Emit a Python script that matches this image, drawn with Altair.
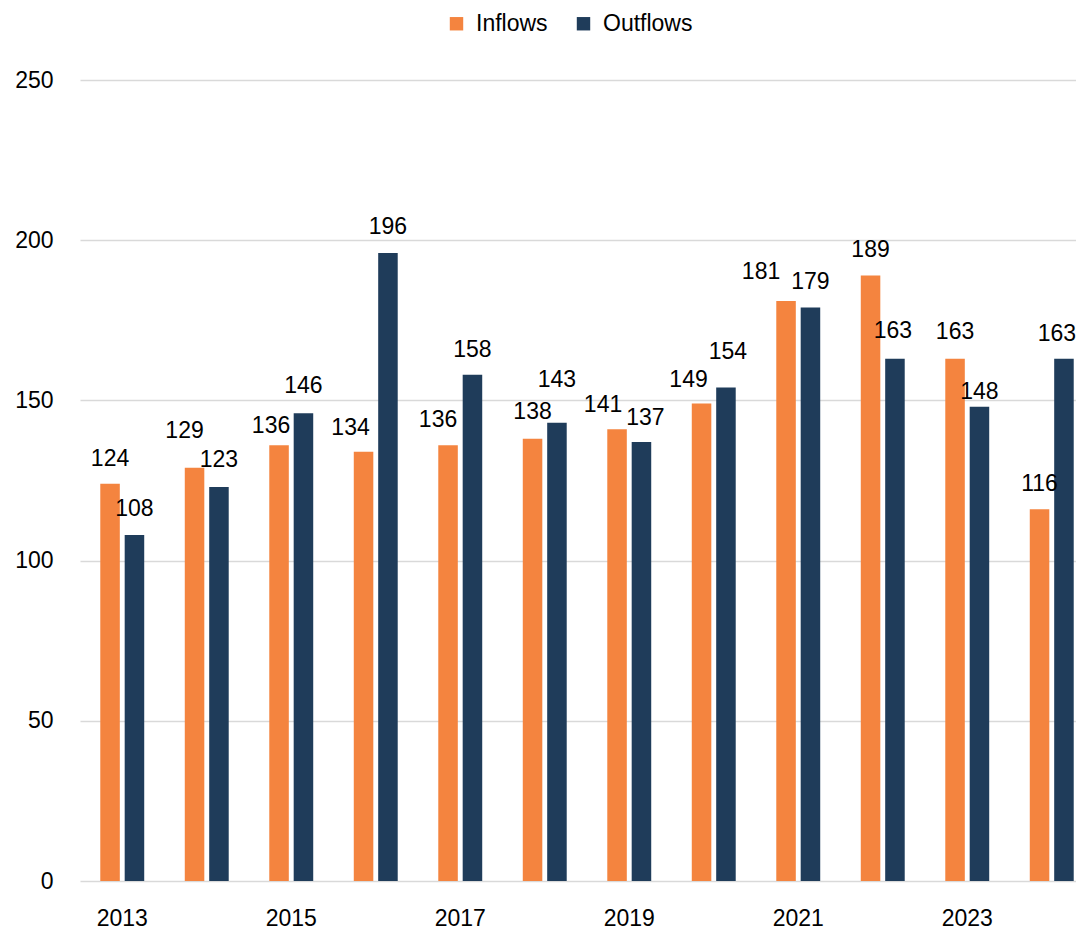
import altair as alt
import pandas as pd

years = [2013, 2014, 2015, 2016, 2017, 2018, 2019, 2020, 2021, 2022, 2023, 2024]
inflows = [124, 129, 136, 134, 136, 138, 141, 149, 181, 189, 163, 116]
outflows = [108, 123, 146, 196, 158, 143, 137, 154, 179, 163, 148, 163]
series = ["Inflows", "Outflows"]
colors = ["#F4843F", "#1F3C5A"]
year_ticks = [2013, 2015, 2017, 2019, 2021, 2023]
y_ticks = [0, 50, 100, 150, 200, 250]

# manual data-label nudges (pixels), as placed in the original chart
inflow_label_dx = [0, -10, -8, -13, -10, 0, -14, -13, -25, 0, 0, 0]
inflow_label_gap = [18, 30, 12, 17, 18, 20, 17, 17, 22, 18, 20, 18]
outflow_label_dx = [0, 0, 0, 0, 0, 0, 4, 2, 0, -2, 0, -7]
outflow_label_gap = [19, 20, 20, 19, 18, 36, 17, 29, 18, 21, 8, 18]

rows = []
for i, yr in enumerate(years):
    rows.append({"year": yr, "series": "Inflows", "value": inflows[i],
                 "ldx": inflow_label_dx[i], "lgap": inflow_label_gap[i]})
    rows.append({"year": yr, "series": "Outflows", "value": outflows[i],
                 "ldx": outflow_label_dx[i], "lgap": outflow_label_gap[i]})
df = pd.DataFrame(rows)

FONT = "Liberation Sans, Arial, sans-serif"
FS = 23

x_enc = alt.X(
    "year:O",
    scale=alt.Scale(range=[0, 1014], paddingInner=0.48, paddingOuter=0.24),
    axis=alt.Axis(
        values=year_ticks,
        title=None,
        labelAngle=0,
        domain=False,
        ticks=False,
        labelFontSize=FS,
        labelColor="#000000",
        labelPadding=44,
        labelBaseline="alphabetic",
    ),
)
xoff_enc = alt.XOffset(
    "series:N",
    sort=series,
    scale=alt.Scale(paddingInner=0.2, paddingOuter=0),
)
y_enc = alt.Y(
    "value:Q",
    scale=alt.Scale(domain=[0, 250], nice=False),
    axis=alt.Axis(
        values=y_ticks,
        title=None,
        domain=False,
        ticks=False,
        labelFontSize=FS,
        labelColor="#000000",
        labelPadding=27,
        gridColor="#D9D9D9",
        gridWidth=1.5,
    ),
)

base = alt.Chart(df).encode(x=x_enc, xOffset=xoff_enc, y=y_enc)

bars = base.mark_bar().encode(
    color=alt.Color(
        "series:N",
        sort=series,
        scale=alt.Scale(domain=series, range=colors),
        legend=alt.Legend(
            title=None,
            orient="none",
            direction="horizontal",
            legendX=365,
            legendY=-68,
            symbolType="square",
            symbolSize=180,
            symbolStrokeWidth=0,
            symbolOpacity=1,
            labelFontSize=FS,
            labelColor="#000000",
            labelOffset=8,
            columnPadding=24,
            padding=0,
        ),
    )
)

labels = base.mark_text(
    baseline="alphabetic",
    fontSize=FS,
    color="#000000",
    dx=alt.ExprRef(expr="datum.ldx"),
    dy=alt.ExprRef(expr="-datum.lgap"),
).encode(text=alt.Text("value:Q"))

chart = (
    alt.layer(bars, labels)
    .properties(
        width=996,
        height=801,
        autosize=alt.AutoSizeParams(type="none"),
        padding={"left": 72, "top": 72, "right": 0, "bottom": 50},
    )
    .configure(font=FONT)
    .configure_view(stroke=None)
)

chart.save("out.html", embed_options={"renderer": "svg", "actions": False})
